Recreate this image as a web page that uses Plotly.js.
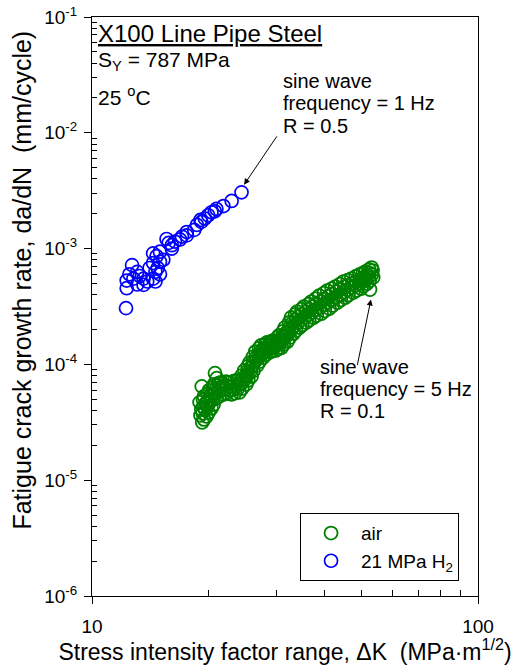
<!DOCTYPE html>
<html>
<head>
<meta charset="utf-8">
<script src="https://cdn.plot.ly/plotly-3.0.1.min.js"></script>
<style>html,body{margin:0;padding:0;background:#fff;}#chart{width:518px;height:665px;}</style>
</head>
<body>
<div id="chart"></div>
<script>
// Air, sine wave 5 Hz, R = 0.1
const airDK = [
  19.0, 19.2, 19.1, 19.3,   19.5, 19.7, 19.6, 19.8,   20.1, 20.3, 20.2, 20.4,   20.7, 20.9, 20.8, 21.0,
  21.6, 21.8, 21.7, 21.9,   22.7, 22.9, 22.8, 23.0,   23.8, 24.0, 23.9, 24.1,   24.8, 25.0, 24.9, 25.1,
  25.6, 25.8, 25.7, 25.9,   26.5, 26.7, 26.6, 26.8,   27.4, 27.7, 27.6, 27.8,   28.4, 28.7, 28.6, 28.8,
  29.5, 29.8, 29.6, 29.9,   30.5, 30.8, 30.7, 31.0,   31.6, 31.9, 31.8, 32.1,   32.8, 33.1, 33.0, 33.3,
  34.0, 34.3, 34.2, 34.5,   35.4, 35.8, 35.6, 35.9,   37.0, 37.3, 37.1, 37.5,   38.8, 39.1, 38.9, 39.3,
  40.7, 41.0, 40.8, 41.2,   42.7, 43.0, 42.8, 43.2,   44.8, 45.1, 44.9, 45.3,   47.0, 47.3, 47.1, 47.5,
  49.3, 49.6, 49.4, 49.8,   51.1, 51.4, 51.2, 51.6,   53.0, 53.3, 53.1, 53.5,
  19.4, 19.45, 19.35, 19.5,  19.95, 20.0, 19.9, 20.05,  20.55, 20.6, 20.5, 20.65,  21.3, 21.35, 21.25, 21.4,
  22.25, 22.3, 22.2, 22.35,  23.35, 23.4, 23.3, 23.45,  24.4, 24.45, 24.35, 24.5,  25.3, 25.35, 25.25, 25.4,
  26.1, 26.15, 26.05, 26.2,  27.1, 27.15, 27.05, 27.2,  28.1, 28.15, 28.05, 28.2,  29.1, 29.2, 29.0, 29.25,
  30.2, 30.3, 30.1, 30.35,  31.25, 31.35, 31.15, 31.4,  32.4, 32.5, 32.3, 32.55,  33.6, 33.7, 33.5, 33.75,
  34.9, 35.0, 34.8, 35.05,  36.4, 36.5, 36.3, 36.55,  38.0, 38.1, 37.9, 38.2,  39.9, 40.0, 39.8, 40.1,
  41.8, 41.9, 41.7, 42.0,  43.9, 44.0, 43.8, 44.1,  46.0, 46.1, 45.9, 46.2,  48.2, 48.3, 48.1, 48.4,
  50.3, 50.4, 50.2, 50.5,  52.2, 52.3, 52.1, 52.4,
  19.25, 20.83, 21.05, 52.5
];
const airRate = [
  4.70e-5, 4.09e-5, 3.63e-5, 3.16e-5,   5.30e-5, 4.61e-5, 4.09e-5, 3.56e-5,   5.97e-5, 5.30e-5, 4.70e-5, 4.18e-5,   6.72e-5, 6.09e-5, 5.62e-5, 5.09e-5,
  7.00e-5, 6.46e-5, 5.97e-5, 5.51e-5,   7.00e-5, 6.46e-5, 5.97e-5, 5.51e-5,   7.28e-5, 6.72e-5, 6.21e-5, 5.74e-5,   8.88e-5, 8.04e-5, 7.43e-5, 6.72e-5,
  1.04e-4, 9.42e-5, 8.70e-5, 7.88e-5,   1.29e-4, 1.17e-4, 1.08e-4, 9.80e-5,   1.46e-4, 1.35e-4, 1.24e-4, 1.15e-4,   1.55e-4, 1.46e-4, 1.35e-4, 1.27e-4,
  1.61e-4, 1.52e-4, 1.40e-4, 1.32e-4,   1.78e-4, 1.64e-4, 1.52e-4, 1.40e-4,   2.08e-4, 1.89e-4, 1.74e-4, 1.58e-4,   2.54e-4, 2.30e-4, 2.04e-4, 1.85e-4,
  2.86e-4, 2.59e-4, 2.30e-4, 2.08e-4,   3.16e-4, 2.86e-4, 2.54e-4, 2.30e-4,   3.49e-4, 3.16e-4, 2.81e-4, 2.54e-4,   3.93e-4, 3.49e-4, 3.10e-4, 2.75e-4,
  4.34e-4, 3.86e-4, 3.42e-4, 3.04e-4,   4.70e-4, 4.26e-4, 3.78e-4, 3.42e-4,   5.19e-4, 4.70e-4, 4.18e-4, 3.78e-4,   5.51e-4, 4.99e-4, 4.61e-4, 4.18e-4,
  5.97e-4, 5.40e-4, 4.99e-4, 4.52e-4,   6.33e-4, 5.85e-4, 5.40e-4, 4.99e-4,   6.86e-4, 6.46e-4, 5.97e-4, 5.62e-4,
  4.95e-5, 4.3e-5, 3.8e-5, 3.35e-5,   5.6e-5, 4.9e-5, 4.35e-5, 3.85e-5,   6.3e-5, 5.6e-5, 5.0e-5, 4.5e-5,   6.9e-5, 6.3e-5, 5.8e-5, 5.3e-5,
  7.1e-5, 6.6e-5, 6.1e-5, 5.6e-5,   7.2e-5, 6.6e-5, 6.1e-5, 5.65e-5,   8.0e-5, 7.3e-5, 6.8e-5, 6.2e-5,   9.6e-5, 8.8e-5, 8.0e-5, 7.3e-5,
  1.16e-4, 1.05e-4, 9.7e-5, 8.8e-5,   1.38e-4, 1.26e-4, 1.16e-4, 1.06e-4,   1.5e-4, 1.4e-4, 1.3e-4, 1.21e-4,   1.58e-4, 1.49e-4, 1.38e-4, 1.3e-4,
  1.7e-4, 1.58e-4, 1.46e-4, 1.36e-4,   1.93e-4, 1.76e-4, 1.63e-4, 1.49e-4,   2.3e-4, 2.08e-4, 1.89e-4, 1.71e-4,   2.7e-4, 2.44e-4, 2.17e-4, 1.96e-4,
  3.0e-4, 2.72e-4, 2.42e-4, 2.19e-4,   3.32e-4, 3.0e-4, 2.67e-4, 2.42e-4,   3.7e-4, 3.32e-4, 2.95e-4, 2.64e-4,   4.13e-4, 3.67e-4, 3.26e-4, 2.9e-4,
  4.52e-4, 4.05e-4, 3.6e-4, 3.23e-4,   4.94e-4, 4.47e-4, 3.98e-4, 3.6e-4,   5.35e-4, 4.84e-4, 4.4e-4, 3.98e-4,   5.74e-4, 5.2e-4, 4.8e-4, 4.35e-4,
  6.15e-4, 5.62e-4, 5.2e-4, 4.75e-4,   6.6e-4, 6.15e-4, 5.68e-4, 5.3e-4,
  6.46e-5, 8.41e-5, 7.60e-5, 4.43e-4
];
// 21 MPa H2, sine wave 1 Hz, R = 0.5
const h2DK = [
  24.4, 23.0, 21.9, 21.0, 20.4, 19.6, 19.1, 18.4, 17.6, 17.1, 16.4, 15.8, 15.6, 16.1, 15.0, 14.4, 15.0, 14.4, 14.8, 14.6,
  15.0, 14.4, 14.6, 13.9, 13.6, 12.7, 12.8, 12.3, 13.1, 12.3, 12.5, 13.3, 12.25, 14.1, 15.3, 16.1, 16.9, 17.6, 18.7, 19.2,
  20.0, 20.8, 13.6, 13.1, 14.7
];
const h2Rate = [
  3.06e-3, 2.58e-3, 2.33e-3, 2.2e-3, 2.06e-3, 1.82e-3, 1.77e-3, 1.45e-3, 1.39e-3, 1.27e-3, 1.15e-3, 1.12e-3, 1.21e-3, 1.0e-3, 9.4e-4, 9.1e-4, 7.7e-4, 7.5e-4, 6.8e-4, 6.3e-4,
  6.0e-4, 5.5e-4, 5.2e-4, 5.2e-4, 4.86e-4, 7.2e-4, 5.5e-4, 5.3e-4, 4.9e-4, 4.55e-4, 6.0e-4, 5.8e-4, 3.06e-4, 6.8e-4, 8.0e-4, 1.07e-3, 1.2e-3, 1.3e-3, 1.6e-3, 1.7e-3,
  1.94e-3, 2.1e-3, 5.5e-4, 6.3e-4, 8.6e-4
];
const seriesNames = ['air', '21 MPa H<sub>2</sub>'];
const yTickVals = [1e-6, 1e-5, 1e-4, 1e-3, 1e-2, 1e-1];
const yTickText = ['10<sup>-6</sup>', '10<sup>-5</sup>', '10<sup>-4</sup>', '10<sup>-3</sup>', '10<sup>-2</sup>', '10<sup>-1</sup>'];
const xTickVals = [10, 100];
const xTickText = ['10', '100'];

const FONT = 'Liberation Sans, Arial, sans-serif';
const minorY = [];
for (let e = -6; e < -1; e++) for (let m = 2; m <= 9; m++) minorY.push(m * Math.pow(10, e));
const minorX = [];
for (let m = 2; m <= 9; m++) minorX.push(m * 10);

const traces = [
  {x: airDK, y: airRate, name: seriesNames[0], type: 'scatter', mode: 'markers',
   marker: {symbol: 'circle-open', size: 13, color: '#008000', line: {width: 1.8, color: '#008000'}}},
  {x: h2DK, y: h2Rate, name: seriesNames[1], type: 'scatter', mode: 'markers',
   marker: {symbol: 'circle-open', size: 13, color: '#0000ff', line: {width: 1.7, color: '#0000ff'}}}
];

function txt(text, x, y, size, angle) {
  return {text: text, xref: 'paper', yref: 'paper', x: x, y: y, xanchor: angle ? 'center' : 'left', yanchor: 'middle',
          textangle: angle || 0, showarrow: false, font: {family: FONT, size: size || 18, color: '#000'}};
}
function arrow(x, y, ax, ay) {
  return {text: '', xref: 'x', yref: 'y', axref: 'x', ayref: 'y',
          x: Math.log10(x), y: Math.log10(y), ax: Math.log10(ax), ay: Math.log10(ay),
          showarrow: true, arrowhead: 2, arrowsize: 1.2, arrowwidth: 1, arrowcolor: '#000'};
}

const layout = {
  width: 518, height: 665,
  margin: {l: 92, r: 40, t: 17, b: 69, pad: 0},
  paper_bgcolor: '#fff', plot_bgcolor: '#fff',
  font: {family: FONT, size: 18, color: '#000'},
  showlegend: true,
  legend: {x: 0.539, y: 0.143, xanchor: 'left', yanchor: 'top', bordercolor: '#000', borderwidth: 1,
           bgcolor: '#fff', font: {family: FONT, size: 19}, itemwidth: 50, tracegroupgap: 0},
  xaxis: {type: 'log', range: [1, 2], showgrid: false, zeroline: false, showline: true, mirror: true,
          linecolor: '#000', linewidth: 1, ticks: 'outside', ticklen: 7, tickcolor: '#000',
          tickmode: 'array', tickvals: xTickVals, ticktext: xTickText, ticklabelstandoff: 6,
          tickfont: {family: FONT, size: 19},
          minor: {tickmode: 'array', tickvals: minorX, ticks: 'inside', ticklen: 6, tickcolor: '#000', showgrid: false},
          title: {text: 'Stress intensity factor range, \u0394K  (MPa\u00b7m<sup>1/2</sup>)', font: {family: FONT, size: 23}, standoff: 6}},
  yaxis: {type: 'log', range: [-6, -1], showgrid: false, zeroline: false, showline: true, mirror: true,
          linecolor: '#000', linewidth: 1, ticks: 'outside', ticklen: 7, tickcolor: '#000',
          tickmode: 'array', tickvals: yTickVals, ticktext: yTickText, ticklabelstandoff: 3,
          tickfont: {family: FONT, size: 19},
          minor: {tickmode: 'array', tickvals: minorY, ticks: 'inside', ticklen: 5, tickcolor: '#000', showgrid: false}},
  annotations: [
    txt('Fatigue crack growth rate, da/dN  (mm/cycle)', -0.181, 0.545, 25, -90),
    txt('<u>X100 Line Pipe Steel</u>', 0.01, 0.972, 24),
    txt('S<sub>Y</sub> = 787 MPa', 0.01, 0.924, 21),
    txt('25 <sup>o</sup>C', 0.01, 0.864, 21),
    txt('sine wave', 0.49, 0.890, 20),
    txt('frequency = 1 Hz', 0.49, 0.851, 20),
    txt('R = 0.5', 0.49, 0.812, 20),
    txt('sine wave', 0.586, 0.395, 20),
    txt('frequency = 5 Hz', 0.586, 0.357, 20),
    txt('R = 0.1', 0.586, 0.319, 20),
    arrow(24.77, 3.56e-3, 30.3, 9.6e-3),
    arrow(52.8, 3.63e-4, 48.6, 9.6e-5)
  ]
};

Plotly.newPlot('chart', traces, layout, {staticPlot: true, displayModeBar: false});
</script>
</body>
</html>
